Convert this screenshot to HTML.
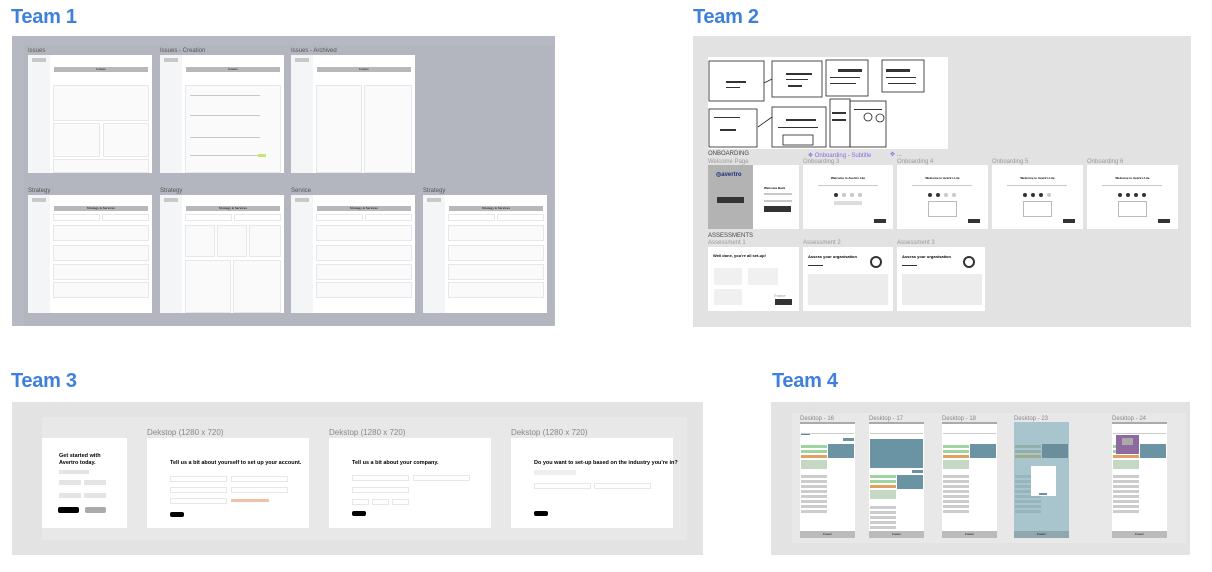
<!DOCTYPE html>
<html><head><meta charset="utf-8"><style>
*{margin:0;padding:0;box-sizing:border-box}
body{width:1212px;height:572px;background:#fff;position:relative;overflow:hidden;font-family:"Liberation Sans",sans-serif}
.a{position:absolute}
.t{position:absolute;font-weight:bold;font-size:20px;color:#3f80dc;letter-spacing:-0.3px}
.lb{position:absolute;font-size:6px;color:#555;white-space:nowrap}
.lb2{position:absolute;font-size:8px;color:#888;white-space:nowrap}
.f{position:absolute;background:#fff}
.sb{position:absolute;left:0;top:0;width:22px;height:100%;background:#f4f5f7}
.hb{position:absolute;height:5px;background:#b8b8b8;font-size:3px;text-align:center;color:#333;font-weight:bold}
.bx{position:absolute;background:#fff;border:1px solid #e6e7ea}
.g{position:absolute;background:#c8c8c8}
.k{position:absolute;background:#333}
.h3{position:absolute;font-size:5.5px;font-weight:bold;white-space:nowrap}
</style></head><body>

<!-- Team 1 -->
<div class="t" style="left:11px;top:6px">Team 1</div>
<div class="a" style="left:12px;top:36px;width:543px;height:290px;background:#b6b9c2"></div>
<div class="a" style="left:24px;top:45px;width:530px;height:281px;background:#b3b6bf"></div>

<div class="lb" style="left:28px;top:48px">Issues</div>
<div class="lb" style="left:160px;top:48px">Issues - Creation</div>
<div class="lb" style="left:291px;top:48px">Issues - Archived</div>
<div class="lb" style="left:28px;top:188px">Strategy</div>
<div class="lb" style="left:160px;top:188px">Strategy</div>
<div class="lb" style="left:291px;top:188px">Service</div>
<div class="lb" style="left:423px;top:188px">Strategy</div>

<div class="f" style="left:28px;top:55px;width:124px;height:118px">
 <div class="sb"></div><div class="g" style="left:4px;top:3px;width:14px;height:4px"></div>
 <div class="hb" style="left:26px;top:12px;width:94px">Issues</div>
 <div class="bx" style="left:25px;top:30px;width:96px;height:36px;background:#fafafa"></div>
 <div class="bx" style="left:25px;top:68px;width:47px;height:34px;background:#fafafa"></div>
 <div class="bx" style="left:75px;top:68px;width:46px;height:34px;background:#fafafa"></div>
 <div class="bx" style="left:25px;top:104px;width:96px;height:14px;background:#fafafa"></div>
</div>
<div class="f" style="left:160px;top:55px;width:124px;height:118px">
 <div class="sb"></div><div class="g" style="left:4px;top:3px;width:14px;height:4px"></div>
 <div class="hb" style="left:26px;top:12px;width:94px">Issues</div>
 <div class="bx" style="left:25px;top:30px;width:96px;height:88px;background:#fafafa"></div>
 <div class="g" style="left:30px;top:40px;width:70px;height:1px"></div>
 <div class="g" style="left:30px;top:60px;width:70px;height:1px"></div>
 <div class="g" style="left:30px;top:82px;width:70px;height:1px"></div>
 <div class="g" style="left:30px;top:100px;width:70px;height:1px"></div>
 <div class="a" style="left:98px;top:99px;width:8px;height:3px;background:#c5e67a"></div>
</div>
<div class="f" style="left:291px;top:55px;width:124px;height:118px">
 <div class="sb"></div><div class="g" style="left:4px;top:3px;width:14px;height:4px"></div>
 <div class="hb" style="left:26px;top:12px;width:94px">Issues</div>
 <div class="bx" style="left:25px;top:30px;width:46px;height:88px;background:#fafafa"></div>
 <div class="bx" style="left:73px;top:30px;width:48px;height:88px;background:#fafafa"></div>
</div>
<div class="f" style="left:28px;top:195px;width:124px;height:118px">
 <div class="sb"></div><div class="g" style="left:4px;top:3px;width:14px;height:4px"></div>
 <div class="hb" style="left:26px;top:11px;width:94px">Strategy &amp; Services</div>
 <div class="bx" style="left:25px;top:19px;width:47px;height:7px"></div><div class="bx" style="left:74px;top:19px;width:47px;height:7px"></div>
 <div class="bx" style="left:25px;top:30px;width:96px;height:16px;background:#fafafa"></div>
 <div class="bx" style="left:25px;top:50px;width:96px;height:16px;background:#fafafa"></div>
 <div class="bx" style="left:25px;top:69px;width:96px;height:16px;background:#fafafa"></div>
 <div class="bx" style="left:25px;top:87px;width:96px;height:16px;background:#fafafa"></div>
</div>
<div class="f" style="left:160px;top:195px;width:124px;height:118px">
 <div class="sb"></div><div class="g" style="left:4px;top:3px;width:14px;height:4px"></div>
 <div class="hb" style="left:26px;top:11px;width:94px">Strategy &amp; Services</div>
 <div class="bx" style="left:25px;top:19px;width:47px;height:7px"></div><div class="bx" style="left:74px;top:19px;width:47px;height:7px"></div>
 <div class="bx" style="left:25px;top:30px;width:30px;height:32px;background:#fafafa"></div>
 <div class="bx" style="left:57px;top:30px;width:30px;height:32px;background:#fafafa"></div>
 <div class="bx" style="left:89px;top:30px;width:32px;height:32px;background:#fafafa"></div>
 <div class="bx" style="left:25px;top:65px;width:46px;height:53px;background:#fafafa"></div>
 <div class="bx" style="left:73px;top:65px;width:48px;height:53px;background:#fafafa"></div>
</div>
<div class="f" style="left:291px;top:195px;width:124px;height:118px">
 <div class="sb"></div><div class="g" style="left:4px;top:3px;width:14px;height:4px"></div>
 <div class="hb" style="left:26px;top:11px;width:94px">Strategy &amp; Services</div>
 <div class="bx" style="left:25px;top:19px;width:47px;height:7px"></div><div class="bx" style="left:74px;top:19px;width:47px;height:7px"></div>
 <div class="bx" style="left:25px;top:30px;width:96px;height:16px;background:#fafafa"></div>
 <div class="bx" style="left:25px;top:50px;width:96px;height:16px;background:#fafafa"></div>
 <div class="bx" style="left:25px;top:69px;width:96px;height:16px;background:#fafafa"></div>
 <div class="bx" style="left:25px;top:87px;width:96px;height:16px;background:#fafafa"></div>
</div>
<div class="f" style="left:423px;top:195px;width:124px;height:118px">
 <div class="sb"></div><div class="g" style="left:4px;top:3px;width:14px;height:4px"></div>
 <div class="hb" style="left:26px;top:11px;width:94px">Strategy &amp; Services</div>
 <div class="bx" style="left:25px;top:19px;width:47px;height:7px"></div><div class="bx" style="left:74px;top:19px;width:47px;height:7px"></div>
 <div class="bx" style="left:25px;top:30px;width:96px;height:16px;background:#fafafa"></div>
 <div class="bx" style="left:25px;top:50px;width:96px;height:16px;background:#fafafa"></div>
 <div class="bx" style="left:25px;top:69px;width:96px;height:16px;background:#fafafa"></div>
 <div class="bx" style="left:25px;top:87px;width:96px;height:16px;background:#fafafa"></div>
</div>

<!-- Team 2 -->
<div class="t" style="left:693px;top:6px">Team 2</div>
<div class="a" style="left:693px;top:36px;width:498px;height:291px;background:#e2e2e2"></div>
<svg class="a" style="left:708px;top:57px" width="240" height="92">
 <rect width="240" height="92" fill="#fff"/>
 <g fill="none" stroke="#222" stroke-width="0.8">
  <rect x="1" y="4" width="55" height="40"/><rect x="64" y="4" width="50" height="36"/>
  <rect x="118" y="3" width="42" height="36"/><rect x="174" y="3" width="42" height="32"/>
  <rect x="1" y="52" width="48" height="38"/><rect x="64" y="50" width="54" height="40"/>
  <rect x="122" y="42" width="20" height="48"/><rect x="142" y="44" width="36" height="46"/>
  <path d="M56 26 L64 22 M50 70 L64 60"/>
  <circle cx="160" cy="60" r="4"/><circle cx="172" cy="61" r="4"/>
  <rect x="75" y="78" width="30" height="10"/>
 </g>
 <g fill="#333"><rect x="18" y="24" width="20" height="2"/><rect x="78" y="16" width="26" height="2"/><rect x="80" y="28" width="14" height="2"/><rect x="12" y="72" width="16" height="2"/><rect x="130" y="12" width="24" height="3"/><rect x="178" y="12" width="24" height="3"/><rect x="78" y="62" width="30" height="2"/>
 <rect x="18" y="30" width="14" height="1"/><rect x="78" y="22" width="22" height="1"/><rect x="122" y="20" width="30" height="1"/><rect x="122" y="26" width="26" height="1"/><rect x="178" y="20" width="30" height="1"/><rect x="180" y="26" width="28" height="1"/><rect x="70" y="70" width="40" height="1"/><rect x="146" y="52" width="28" height="1"/><rect x="124" y="55" width="14" height="2"/><rect x="124" y="62" width="14" height="2"/><rect x="6" y="60" width="26" height="1"/></g>
</svg>
<div class="lb" style="left:708px;top:151px;color:#444">ONBOARDING</div>
<div class="lb" style="left:808px;top:152px;color:#8a6ae0">✥ Onboarding - Subtitle</div>
<div class="lb" style="left:890px;top:151px;color:#8a6ae0">✥ ...</div>
<div class="lb" style="left:708px;top:159px;color:#999">Welcome Page</div>
<div class="lb" style="left:803px;top:159px;color:#999">Onboarding 3</div>
<div class="lb" style="left:897px;top:159px;color:#999">Onboarding 4</div>
<div class="lb" style="left:992px;top:159px;color:#999">Onboarding 5</div>
<div class="lb" style="left:1087px;top:159px;color:#999">Onboarding 6</div>

<div class="f" style="left:708px;top:165px;width:91px;height:64px">
 <div class="a" style="left:0;top:0;width:45px;height:64px;background:#b3b3b3"></div>
 <div class="a" style="left:8px;top:6px;font-size:6px;color:#1c2f7a;font-weight:bold">◎avertro</div>
 <div class="k" style="left:9px;top:32px;width:27px;height:6px"></div>
 <div class="a" style="left:56px;top:21px;font-size:3px;font-weight:bold">Welcome Back</div>
 <div class="g" style="left:56px;top:28px;width:28px;height:2px"></div>
 <div class="g" style="left:56px;top:35px;width:28px;height:2px"></div>
 <div class="k" style="left:56px;top:41px;width:27px;height:6px"></div>
</div>
<div class="f" style="left:803px;top:165px;width:90px;height:64px">
 <div class="a" style="left:0;top:11px;width:90px;text-align:center;font-size:3px;font-weight:bold">Welcome to Avertro Lite</div>
 <div class="g" style="left:15px;top:20px;width:60px;height:1px"></div>
 <div class="k" style="left:31px;top:28px;width:4px;height:4px;border-radius:50%"></div>
 <div class="g" style="left:39px;top:28px;width:4px;height:4px;border-radius:50%"></div>
 <div class="g" style="left:47px;top:28px;width:4px;height:4px;border-radius:50%"></div>
 <div class="g" style="left:55px;top:28px;width:4px;height:4px;border-radius:50%"></div>
 <div class="g" style="left:31px;top:36px;width:28px;height:4px;background:#ddd"></div>
 <div class="k" style="left:71px;top:54px;width:12px;height:4px"></div>
</div>
<div class="f" style="left:897px;top:165px;width:91px;height:64px">
 <div class="a" style="left:0;top:11px;width:91px;text-align:center;font-size:3px;font-weight:bold">Welcome to Avertro Lite</div>
 <div class="g" style="left:15px;top:20px;width:60px;height:1px"></div>
 <div class="k" style="left:31px;top:28px;width:4px;height:4px;border-radius:50%"></div>
 <div class="k" style="left:39px;top:28px;width:4px;height:4px;border-radius:50%"></div>
 <div class="g" style="left:47px;top:28px;width:4px;height:4px;border-radius:50%"></div>
 <div class="g" style="left:55px;top:28px;width:4px;height:4px;border-radius:50%"></div>
 <div class="bx" style="left:31px;top:36px;width:29px;height:16px;border-color:#bbb"></div>
 <div class="k" style="left:71px;top:54px;width:12px;height:4px"></div>
</div>
<div class="f" style="left:992px;top:165px;width:91px;height:64px">
 <div class="a" style="left:0;top:11px;width:91px;text-align:center;font-size:3px;font-weight:bold">Welcome to Avertro Lite</div>
 <div class="g" style="left:15px;top:20px;width:60px;height:1px"></div>
 <div class="k" style="left:31px;top:28px;width:4px;height:4px;border-radius:50%"></div>
 <div class="k" style="left:39px;top:28px;width:4px;height:4px;border-radius:50%"></div>
 <div class="k" style="left:47px;top:28px;width:4px;height:4px;border-radius:50%"></div>
 <div class="g" style="left:55px;top:28px;width:4px;height:4px;border-radius:50%"></div>
 <div class="bx" style="left:31px;top:36px;width:29px;height:16px;border-color:#bbb"></div>
 <div class="k" style="left:71px;top:54px;width:12px;height:4px"></div>
</div>
<div class="f" style="left:1087px;top:165px;width:91px;height:64px">
 <div class="a" style="left:0;top:11px;width:91px;text-align:center;font-size:3px;font-weight:bold">Welcome to Avertro Lite</div>
 <div class="g" style="left:15px;top:20px;width:60px;height:1px"></div>
 <div class="k" style="left:31px;top:28px;width:4px;height:4px;border-radius:50%"></div>
 <div class="k" style="left:39px;top:28px;width:4px;height:4px;border-radius:50%"></div>
 <div class="k" style="left:47px;top:28px;width:4px;height:4px;border-radius:50%"></div>
 <div class="k" style="left:55px;top:28px;width:4px;height:4px;border-radius:50%"></div>
 <div class="bx" style="left:31px;top:36px;width:29px;height:16px;border-color:#bbb"></div>
 <div class="k" style="left:71px;top:54px;width:12px;height:4px"></div>
</div>

<div class="lb" style="left:708px;top:233px;color:#444">ASSESSMENTS</div>
<div class="lb" style="left:708px;top:240px;color:#999">Assessment 1</div>
<div class="lb" style="left:803px;top:240px;color:#999">Assessment 2</div>
<div class="lb" style="left:897px;top:240px;color:#999">Assessment 3</div>
<div class="f" style="left:708px;top:247px;width:91px;height:64px">
 <div class="a" style="left:5px;top:6px;font-size:4px;font-weight:bold">Well done, you're all set-up!</div>
 <div class="bx" style="left:6px;top:21px;width:28px;height:17px;background:#f0f0f0;border:0"></div>
 <div class="bx" style="left:40px;top:21px;width:30px;height:17px;background:#f0f0f0;border:0"></div>
 <div class="bx" style="left:6px;top:42px;width:28px;height:16px;background:#f0f0f0;border:0"></div>
 <div class="a" style="left:66px;top:46px;font-size:4px;color:#999">Frame</div>
 <div class="k" style="left:67px;top:52px;width:17px;height:6px"></div>
</div>
<div class="f" style="left:803px;top:247px;width:90px;height:64px">
 <div class="a" style="left:5px;top:7px;font-size:4px;font-weight:bold">Assess your organisation</div>
 <div class="a" style="left:67px;top:9px;width:12px;height:12px;border:2px solid #333;border-radius:50%"></div>
 <div class="k" style="left:5px;top:18px;width:15px;height:1px"></div>
 <div class="a" style="left:5px;top:27px;width:80px;height:31px;background:#ececec"></div>
</div>
<div class="f" style="left:897px;top:247px;width:88px;height:64px">
 <div class="a" style="left:5px;top:7px;font-size:4px;font-weight:bold">Assess your organisation</div>
 <div class="a" style="left:66px;top:9px;width:12px;height:12px;border:2px solid #333;border-radius:50%"></div>
 <div class="k" style="left:5px;top:18px;width:15px;height:1px"></div>
 <div class="a" style="left:5px;top:27px;width:80px;height:31px;background:#ececec"></div>
</div>

<!-- Team 3 -->
<div class="t" style="left:11px;top:370px">Team 3</div>
<div class="a" style="left:12px;top:402px;width:691px;height:153px;background:#e3e3e3"></div>
<div class="a" style="left:42px;top:417px;width:645px;height:123px;background:#e8e8e8"></div>
<div class="lb2" style="left:147px;top:428px">Dekstop (1280 x 720)</div>
<div class="lb2" style="left:329px;top:428px">Dekstop (1280 x 720)</div>
<div class="lb2" style="left:511px;top:428px">Dekstop (1280 x 720)</div>
<div class="f" style="left:42px;top:438px;width:85px;height:90px">
 <div class="a" style="left:17px;top:15px;font-size:5.5px;font-weight:bold;line-height:7px">Get started with<br>Avertro today.</div>
 <div class="g" style="left:17px;top:32px;width:30px;height:4px;background:#e4e4e4"></div>
 <div class="g" style="left:17px;top:42px;width:22px;height:5px;background:#e4e4e4"></div>
 <div class="g" style="left:42px;top:42px;width:22px;height:5px;background:#e4e4e4"></div>
 <div class="g" style="left:17px;top:55px;width:22px;height:5px;background:#e4e4e4"></div>
 <div class="g" style="left:42px;top:55px;width:22px;height:5px;background:#e4e4e4"></div>
 <div class="k" style="left:16px;top:69px;width:21px;height:6px;background:#000;border-radius:2px"></div>
 <div class="g" style="left:43px;top:69px;width:21px;height:6px;background:#aaa;border-radius:2px"></div>
</div>
<div class="f" style="left:147px;top:438px;width:162px;height:90px">
 <div class="h3" style="left:23px;top:22px">Tell us a bit about yourself to set up your account.</div>
 <div class="bx" style="left:23px;top:38px;width:57px;height:6px"></div><div class="bx" style="left:84px;top:38px;width:57px;height:6px"></div>
 <div class="bx" style="left:23px;top:49px;width:57px;height:6px"></div><div class="bx" style="left:84px;top:49px;width:57px;height:6px"></div>
 <div class="bx" style="left:23px;top:60px;width:57px;height:6px"></div>
 <div class="a" style="left:84px;top:61px;width:38px;height:3px;background:#f3c0a8"></div>
 <div class="k" style="left:23px;top:74px;width:14px;height:5px;background:#000;border-radius:2px"></div>
</div>
<div class="f" style="left:329px;top:438px;width:162px;height:90px">
 <div class="h3" style="left:23px;top:22px">Tell us a bit about your company.</div>
 <div class="bx" style="left:23px;top:37px;width:57px;height:6px"></div><div class="bx" style="left:84px;top:37px;width:57px;height:6px"></div>
 <div class="bx" style="left:23px;top:49px;width:57px;height:6px"></div>
 <div class="bx" style="left:23px;top:61px;width:17px;height:6px"></div><div class="bx" style="left:43px;top:61px;width:17px;height:6px"></div><div class="bx" style="left:63px;top:61px;width:17px;height:6px"></div>
 <div class="k" style="left:23px;top:73px;width:14px;height:5px;background:#000;border-radius:2px"></div>
</div>
<div class="f" style="left:511px;top:438px;width:162px;height:90px">
 <div class="h3" style="left:23px;top:22px">Do you want to set-up based on the industry you're in?</div>
 <div class="a" style="left:23px;top:32px;width:42px;height:5px;background:#eee"></div>
 <div class="bx" style="left:23px;top:45px;width:57px;height:6px"></div><div class="bx" style="left:83px;top:45px;width:57px;height:6px"></div>
 <div class="k" style="left:23px;top:73px;width:14px;height:5px;background:#000;border-radius:2px"></div>
</div>

<!-- Team 4 -->
<div class="t" style="left:772px;top:370px">Team 4</div>
<div class="a" style="left:771px;top:402px;width:419px;height:153px;background:#e3e3e3"></div>
<div class="a" style="left:792px;top:413px;width:394px;height:130px;background:#e8e8e8"></div>
<div class="lb" style="left:800px;top:416px;color:#888">Desktop - 16</div>
<div class="lb" style="left:869px;top:416px;color:#888">Desktop - 17</div>
<div class="lb" style="left:942px;top:416px;color:#888">Desktop - 18</div>
<div class="lb" style="left:1014px;top:416px;color:#888">Desktop - 23</div>
<div class="lb" style="left:1112px;top:416px;color:#888">Desktop - 24</div>

<div class="f" style="left:800px;top:422px;width:55px;height:116px">
 <div class="g" style="left:0;top:0;width:55px;height:2px;background:#aaa"></div>
 <div class="g" style="left:1px;top:11px;width:53px;height:1px;background:#ccc"></div>
 <div class="a" style="left:1px;top:12px;width:9px;height:1px;background:#5a8aa0"></div>
 <div class="a" style="left:43px;top:16px;width:11px;height:3px;background:#6a93a3"></div>
 <div class="a" style="left:28px;top:22px;width:26px;height:14px;background:#6a93a3"></div>
 <div class="a" style="left:1px;top:23px;width:26px;height:3px;background:#9fd39f"></div>
 <div class="a" style="left:1px;top:28px;width:26px;height:3px;background:#9fd39f"></div>
 <div class="a" style="left:1px;top:33px;width:26px;height:3px;background:#e0a060"></div>
 <div class="a" style="left:1px;top:38px;width:26px;height:9px;background:#c4d8c4"></div>
 <div class="a" style="left:1px;top:53px;width:26px;height:40px;background:repeating-linear-gradient(#ccc 0 3px,#fff 3px 5px)"></div>
 <div class="a" style="left:0;top:109px;width:55px;height:7px;background:#bbb;font-size:3px;text-align:center;line-height:7px">Footer</div>
</div>
<div class="f" style="left:869px;top:422px;width:55px;height:116px">
 <div class="g" style="left:0;top:0;width:55px;height:2px;background:#aaa"></div>
 <div class="g" style="left:1px;top:11px;width:53px;height:1px;background:#ccc"></div>
 <div class="a" style="left:1px;top:17px;width:53px;height:29px;background:#6a93a3"></div>
 <div class="a" style="left:43px;top:48px;width:11px;height:3px;background:#6a93a3"></div>
 <div class="a" style="left:28px;top:53px;width:26px;height:14px;background:#6a93a3"></div>
 <div class="a" style="left:1px;top:53px;width:26px;height:3px;background:#9fd39f"></div>
 <div class="a" style="left:1px;top:58px;width:26px;height:3px;background:#9fd39f"></div>
 <div class="a" style="left:1px;top:63px;width:26px;height:3px;background:#e0a060"></div>
 <div class="a" style="left:1px;top:68px;width:26px;height:9px;background:#c4d8c4"></div>
 <div class="a" style="left:1px;top:84px;width:26px;height:24px;background:repeating-linear-gradient(#ccc 0 3px,#fff 3px 5px)"></div>
 <div class="a" style="left:0;top:109px;width:55px;height:7px;background:#bbb;font-size:3px;text-align:center;line-height:7px">Footer</div>
</div>
<div class="f" style="left:942px;top:422px;width:55px;height:116px">
 <div class="g" style="left:0;top:0;width:55px;height:2px;background:#aaa"></div>
 <div class="g" style="left:1px;top:11px;width:53px;height:1px;background:#ccc"></div>
 <div class="a" style="left:28px;top:22px;width:26px;height:14px;background:#6a93a3"></div>
 <div class="a" style="left:1px;top:23px;width:26px;height:3px;background:#9fd39f"></div>
 <div class="a" style="left:1px;top:28px;width:26px;height:3px;background:#9fd39f"></div>
 <div class="a" style="left:1px;top:33px;width:26px;height:3px;background:#e0a060"></div>
 <div class="a" style="left:1px;top:38px;width:26px;height:9px;background:#c4d8c4"></div>
 <div class="a" style="left:1px;top:53px;width:26px;height:40px;background:repeating-linear-gradient(#ccc 0 3px,#fff 3px 5px)"></div>
 <div class="a" style="left:0;top:109px;width:55px;height:7px;background:#bbb;font-size:3px;text-align:center;line-height:7px">Footer</div>
</div>
<div class="f" style="left:1014px;top:422px;width:55px;height:116px;background:#a8c4cc">
 <div class="a" style="left:28px;top:22px;width:26px;height:14px;background:#6a8e9c"></div>
 <div class="a" style="left:1px;top:23px;width:26px;height:3px;background:#8fb0a8"></div>
 <div class="a" style="left:1px;top:28px;width:26px;height:3px;background:#8fb0a8"></div>
 <div class="a" style="left:1px;top:33px;width:26px;height:3px;background:#a4a88a"></div>
 <div class="a" style="left:1px;top:53px;width:26px;height:40px;background:repeating-linear-gradient(#98b4bc 0 3px,#a8c4cc 3px 5px)"></div>
 <div class="a" style="left:17px;top:44px;width:25px;height:30px;background:#fff"></div>
 <div class="a" style="left:25px;top:71px;width:8px;height:2px;background:#6a93a3"></div>
 <div class="a" style="left:0;top:109px;width:55px;height:7px;background:#8fa8b0;font-size:3px;text-align:center;line-height:7px">Footer</div>
</div>
<div class="f" style="left:1112px;top:422px;width:55px;height:116px">
 <div class="g" style="left:0;top:0;width:55px;height:2px;background:#aaa"></div>
 <div class="g" style="left:1px;top:11px;width:53px;height:1px;background:#ccc"></div>
 <div class="a" style="left:28px;top:22px;width:26px;height:14px;background:#6a93a3"></div>
 <div class="a" style="left:1px;top:23px;width:26px;height:3px;background:#9fd39f"></div>
 <div class="a" style="left:1px;top:28px;width:26px;height:3px;background:#9fd39f"></div>
 <div class="a" style="left:1px;top:33px;width:26px;height:3px;background:#e0a060"></div>
 <div class="a" style="left:1px;top:38px;width:26px;height:9px;background:#c4d8c4"></div>
 <div class="a" style="left:4px;top:13px;width:23px;height:19px;background:#8e6aa0"></div>
 <div class="a" style="left:10px;top:16px;width:11px;height:7px;background:#aaa"></div>
 <div class="a" style="left:1px;top:53px;width:26px;height:40px;background:repeating-linear-gradient(#ccc 0 3px,#fff 3px 5px)"></div>
 <div class="a" style="left:0;top:109px;width:55px;height:7px;background:#bbb;font-size:3px;text-align:center;line-height:7px">Footer</div>
</div>
</body></html>
